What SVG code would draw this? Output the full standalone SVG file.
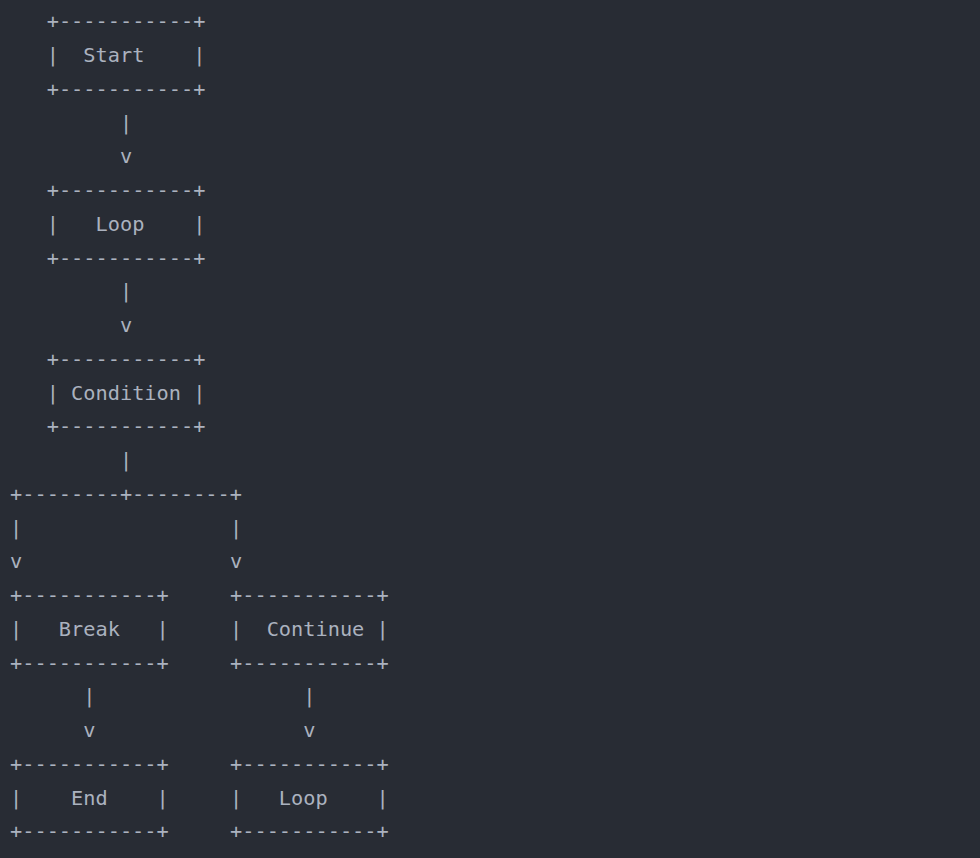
<svg xmlns="http://www.w3.org/2000/svg" width="980" height="858" viewBox="0 0 980 858" xml:space="preserve">
<style>
text { font-family: "DejaVu Sans Mono", "Liberation Mono", monospace; font-size: 20.3px; fill: #abb2bf; white-space: pre; }
</style>
<rect x="0" y="0" width="980" height="858" fill="#282c34"/>
<g id="node-start">
<text x="46.7" y="28.3">+-----------+</text>
<text x="46.7" y="62">|  Start    |</text>
<text x="46.7" y="95.8">+-----------+</text>
</g>
<g id="node-loop">
<text x="46.7" y="197">+-----------+</text>
<text x="46.7" y="230.8">|   Loop    |</text>
<text x="46.7" y="264.5">+-----------+</text>
</g>
<g id="node-condition">
<text x="46.7" y="365.8">+-----------+</text>
<text x="46.7" y="399.5">| Condition |</text>
<text x="46.7" y="433.3">+-----------+</text>
</g>
<g id="node-break">
<text x="10" y="602">+-----------+</text>
<text x="10" y="635.8">|   Break   |</text>
<text x="10" y="669.5">+-----------+</text>
</g>
<g id="node-continue">
<text x="230" y="602">+-----------+</text>
<text x="230" y="635.8">|  Continue |</text>
<text x="230" y="669.5">+-----------+</text>
</g>
<g id="node-end">
<text x="10" y="770.8">+-----------+</text>
<text x="10" y="804.5">|    End    |</text>
<text x="10" y="838.3">+-----------+</text>
</g>
<g id="node-loop2">
<text x="230" y="770.8">+-----------+</text>
<text x="230" y="804.5">|   Loop    |</text>
<text x="230" y="838.3">+-----------+</text>
</g>
<g id="connectors">
<text x="120" y="129.6">|</text>
<text x="120" y="163.3">v</text>
<text x="120" y="298.3">|</text>
<text x="120" y="332">v</text>
<text x="120" y="467">|</text>
<text x="10" y="500.8">+--------+--------+</text>
<text x="10" y="534.5">|</text>
<text x="230" y="534.5">|</text>
<text x="10" y="568.3">v</text>
<text x="230" y="568.3">v</text>
<text x="83.3" y="703.3">|</text>
<text x="303.3" y="703.3">|</text>
<text x="83.3" y="737">v</text>
<text x="303.3" y="737">v</text>
</g>
</svg>
